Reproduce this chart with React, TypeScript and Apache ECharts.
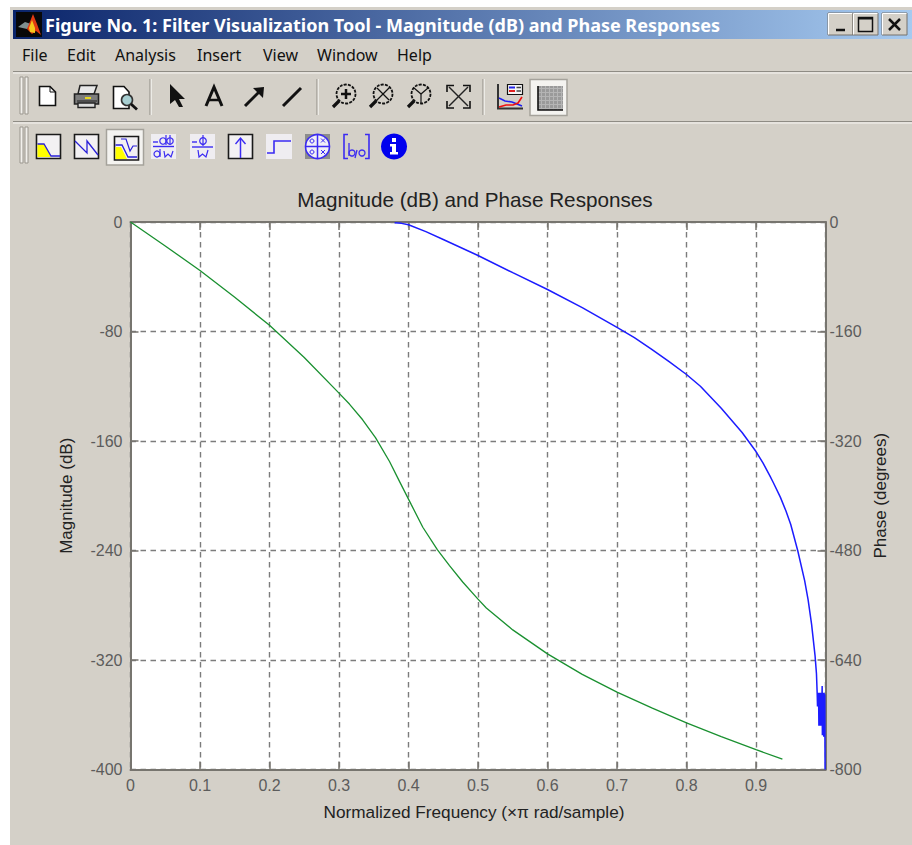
import React, { useEffect, useRef } from "react";
import * as echarts from "echarts";

const chartTitle = "Magnitude (dB) and Phase Responses";
const windowTitle = "Figure No. 1: Filter Visualization Tool - Magnitude (dB) and Phase Responses";
const xAxisName = "Normalized Frequency (×π rad/sample)";
const leftAxisName = "Magnitude (dB)";
const rightAxisName = "Phase (degrees)";
const menuLabels = ["File", "Edit", "Analysis", "Insert", "View", "Window", "Help"];

const magnitudeFreq = [0.38, 0.39, 0.4, 0.425, 0.45, 0.5, 0.55, 0.6, 0.65, 0.7, 0.725, 0.75, 0.775, 0.8, 0.82, 0.85, 0.88, 0.9, 0.91, 0.92, 0.925, 0.935, 0.943, 0.95, 0.96, 0.97, 0.975, 0.98, 0.985, 0.987];
const magnitudeDb = [-0.5, -1, -2, -7, -12.8, -24.5, -37, -49.3, -62.5, -77, -84.5, -93, -102, -111.4, -120, -136, -153.8, -167.7, -176, -185.5, -190.5, -201, -211, -221, -240, -262, -276, -294, -317, -330];
const tailFreq = [0.988, 0.9885, 0.989, 0.9895, 0.99, 0.9905, 0.991, 0.9915, 0.992, 0.9925, 0.993, 0.9935, 0.994, 0.9945, 0.995, 0.9952, 0.9955, 0.996, 0.9965, 0.997, 0.9975, 0.998, 0.9985, 0.999, 0.9992, 0.9994];
const tailDb = [-344, -354, -344, -354, -344, -368, -344, -368, -344, -368, -344, -368, -344, -368, -344, -339, -375, -344, -375, -344, -376, -344, -376, -345, -378, -400];

const phaseFreq = [0, 0.05, 0.1, 0.15, 0.2, 0.25, 0.3, 0.315, 0.334, 0.3525, 0.3727, 0.387, 0.404, 0.4206, 0.4417, 0.459, 0.478, 0.5, 0.512, 0.55, 0.6, 0.65, 0.7, 0.75, 0.8, 0.85, 0.9, 0.938];
const phaseDeg = [0, -35, -70.9, -110, -151, -198, -250, -266, -289, -315, -350, -379, -413, -446, -479, -502, -526, -551, -564, -596, -631, -661, -687, -710, -732, -752, -771, -785];

const BG = "#d4d0c8";
const INK = "#111111";
const VIOLET = "#3b2bf2";
const PALE = "#efedf1";

const rect = (x: number, y: number, w: number, h: number, fill: any, stroke?: string, lw = 1, z = 1) => ({
  type: "rect", z, silent: true, shape: { x, y, width: w, height: h }, style: { fill, stroke: stroke || "none", lineWidth: lw },
});
const line = (x1: number, y1: number, x2: number, y2: number, stroke: string, lw = 1) => ({
  type: "line", z: 1, silent: true, shape: { x1, y1, x2, y2 }, style: { stroke, lineWidth: lw },
});
const pline = (points: number[][], stroke: string, lw = 1) => ({
  type: "polyline", z: 1, silent: true, shape: { points }, style: { stroke, lineWidth: lw, fill: "none" },
});
const pgon = (points: number[][], fill: string, stroke?: string, lw = 1) => ({
  type: "polygon", z: 1, silent: true, shape: { points }, style: { fill, stroke: stroke || "none", lineWidth: lw },
});
const circ = (cx: number, cy: number, r: number, fill: string, stroke?: string, lw = 1, lineDash?: number[]) => ({
  type: "circle", z: 1, silent: true, shape: { cx, cy, r }, style: { fill, stroke: stroke || "none", lineWidth: lw, lineDash },
});
const label = (text: string, x: number, y: number, font: string, fill: string) => ({
  type: "text", z: 2, silent: true, x, y, style: { text, font, fill, textVerticalAlign: "middle" },
});

const handle = (x: number, y1: number, y2: number) => [
  rect(x, y1, 3, y2 - y1, "#f2f0ec", "#9a968e", 1),
  rect(x + 5, y1, 3, y2 - y1, "#f2f0ec", "#9a968e", 1),
];
const vSep = (x: number, y1: number, y2: number) => [line(x, y1, x, y2, "#8f8c85", 1), line(x + 1.2, y1, x + 1.2, y2, "#f7f6f3", 1)];
const hSep = (y: number) => [line(13, y, 912, y, "#8f8c85", 1.2), line(13, y + 1.5, 912, y + 1.5, "#f7f6f3", 1.2)];
const pressed = (x: number, y: number, w: number, h: number) => [
  rect(x, y, w, h, "#f4f3f0", "#a5a29b", 1.5),
];
const magnifier = (cx: number, cy: number) => [
  circ(cx, cy, 9.5, "none", INK, 1.8, [3, 1.2]),
  line(cx - 7, cy + 7, cx - 13, cy + 13, INK, 3.2),
];
const winButton = (x: number, w: number) => [
  rect(x, 13, w, 22, BG, "#77736c", 1),
  line(x + 0.5, 13.5, x + w - 0.5, 13.5, "#ffffff", 1),
  line(x + 0.5, 13.5, x + 0.5, 34.5, "#ffffff", 1),
];

const chromeElements: any[] = [
  rect(10, 7, 902, 838, BG, undefined, 1, -1),
  // title bar
  rect(13, 10, 899, 29, new echarts.graphic.LinearGradient(0, 0, 1, 0, [
    { offset: 0, color: "#0a246a" },
    { offset: 1, color: "#a6caf0" },
  ])),
  rect(16, 12, 26, 25, "#080808"),
  pgon([[18, 27], [25, 22], [31, 24], [27, 29]], "#7f8f90"),
  pgon([[27, 29], [33, 14], [37, 24], [41, 35], [36, 31], [32, 34]], "#e23a12"),
  pgon([[32, 20], [35, 28], [35, 33], [30, 32], [29, 28]], "#f6c81c"),
  label(windowTitle, 45, 25, "bold 18px 'Noto Sans'", "#ffffff"),
  ...winButton(828, 25),
  line(836, 30, 845, 30, INK, 2.5),
  ...winButton(853, 25),
  rect(858.5, 17.5, 14, 14, "none", INK, 1.5),
  line(858.5, 18.5, 872.5, 18.5, INK, 2),
  ...winButton(882, 25),
  line(889, 19, 900, 30, INK, 2.5),
  line(900, 19, 889, 30, INK, 2.5),
  // menu
  ...menuLabels.map((m, i) => label(m, [22, 67, 115, 197, 263, 317, 397][i], 55, "16px 'Noto Sans'", INK)),
  ...hSep(71.5),
  ...hSep(121.5),
  // toolbar 1
  ...handle(20, 77, 114),
  pgon([[39.5, 86.5], [50, 86.5], [55.5, 92], [55.5, 105.5], [39.5, 105.5]], "#ffffff", INK, 1.6),
  pline([[50, 86.5], [50, 92], [55.5, 92]], INK, 1),
  // printer
  pgon([[80, 85.5], [97, 85.5], [94, 94], [78, 94]], "#e8e8e8", "#222222", 1.5),
  rect(74.5, 94, 24, 10, "#7d7d7d", "#222222", 1.6),
  rect(78, 103, 17, 4.5, "#dddddd", "#222222", 1.4),
  line(85, 98, 91, 98, "#e8d820", 2),
  line(77, 101, 97, 101, "#303030", 1.2),
  // preview
  pgon([[113.5, 86.5], [124, 86.5], [129, 92], [129, 108.5], [113.5, 108.5]], "#ffffff", INK, 1.6),
  circ(127, 100, 5.5, "#a8cfd2", "#333333", 1.6),
  line(131, 104, 137, 109.5, INK, 2.8),
  ...vSep(150, 79, 115),
  // pointer
  pgon([[170, 84], [185, 99], [179, 99], [183, 107], [179, 107], [175, 100], [170, 104]], INK),
  // A glyph
  pline([[206, 106], [214, 87], [222, 106]], INK, 3),
  line(209, 100, 219, 100, INK, 2.5),
  // arrow
  line(245, 106, 261, 90, INK, 3),
  pgon([[264, 87], [263, 98], [253, 88]], INK),
  // line tool
  line(283, 106, 301, 88, INK, 3),
  ...vSep(317, 79, 115),
  ...magnifier(346, 94),
  line(341, 94, 351, 94, INK, 2.5),
  line(346, 89, 346, 99, INK, 2.5),
  ...magnifier(383, 94),
  line(377, 88, 389, 100, INK, 1.2),
  line(389, 88, 377, 100, INK, 1.2),
  ...magnifier(421, 94),
  line(421, 94, 421, 103, INK, 1.2),
  line(421, 94, 414, 88, INK, 1.2),
  line(421, 94, 428, 88, INK, 1.2),
  // fit
  line(449, 87, 468, 106, "#222222", 1.5),
  line(468, 87, 449, 106, "#222222", 1.5),
  pline([[447, 92], [447, 85.5], [454, 85.5]], INK, 1.6),
  pline([[463, 85.5], [470, 85.5], [470, 92]], INK, 1.6),
  pline([[447, 101], [447, 108], [454, 108]], INK, 1.6),
  pline([[463, 108], [470, 108], [470, 101]], INK, 1.6),
  ...vSep(483, 79, 115),
  // legend icon
  pline([[498, 84], [498, 108.5], [523, 108.5]], "#333333", 2),
  rect(507.5, 84.5, 15, 10, "#f5f5f5", INK, 1.2),
  line(509, 87.5, 515, 87.5, "#2525e8", 2),
  line(509, 91, 515, 91, "#e02020", 2),
  line(516.5, 87.5, 521, 87.5, "#444", 1.5),
  line(516.5, 91, 521, 91, "#444", 1.5),
  pline([[499, 98], [505, 101], [512, 102], [517, 104], [522, 106]], "#2020f0", 1.6),
  pline([[499, 107], [506, 105], [513, 105], [518, 103], [522, 97]], "#ee1010", 1.6),
  // grid icon
  ...pressed(530, 79.5, 37, 36),
  rect(538, 86, 25, 24, "#9a9a9a"),
  ...[0, 1, 2, 3, 4, 5].map((i) => line(538, 88.5 + i * 4, 563, 88.5 + i * 4, "#b5b5b5", 1)),
  ...[0, 1, 2, 3, 4, 5].map((i) => line(541.5 + i * 4, 86, 541.5 + i * 4, 110, "#b5b5b5", 1)),
  pline([[538, 86], [538, 110], [563, 110]], INK, 1.6),
  // toolbar 2
  ...handle(20, 127, 163),
  rect(36.5, 134.5, 24, 24, "#f3f1f3", "#1a1a1a", 1.6),
  pgon([[37.5, 144], [44, 144], [51, 157], [37.5, 157]], "#ffff00"),
  pline([[37.5, 144], [44, 144], [51, 156], [60, 156]], "#2a20d8", 1.3),
  rect(74.5, 134.5, 24, 24, "#f3f1f3", "#1a1a1a", 1.6),
  pline([[75, 141], [87, 153], [87, 141], [98, 155]], "#2a20d8", 1.3),
  ...pressed(106.5, 129.5, 37, 35.5),
  rect(114.5, 136.5, 24, 23.5, "#f3f1f3", "#1a1a1a", 1.6),
  pgon([[115.5, 147], [121, 147], [127, 159], [115.5, 159]], "#ffff00"),
  pline([[115.5, 145], [122, 145], [128, 157], [137, 157]], "#2a20d8", 1.3),
  pline([[121, 139], [126, 139], [130, 151], [133, 146], [137, 146]], "#2a20d8", 1.2),
  // group delay
  rect(151, 134, 25, 25, PALE),
  line(153, 146.5, 174, 146.5, VIOLET, 1.4),
  line(153, 142, 158, 142, VIOLET, 1.4),
  circ(163, 141, 3.2, "none", VIOLET, 1.2),
  line(166, 135, 166, 145, VIOLET, 1.2),
  circ(170, 141, 3.2, "none", VIOLET, 1.2),
  line(170, 135, 170, 145, VIOLET, 1.2),
  circ(157, 154, 3, "none", VIOLET, 1.2),
  line(160, 149, 160, 157, VIOLET, 1.2),
  pline([[164, 151], [165, 157], [168, 154], [171, 157], [173, 151]], VIOLET, 1.2),
  // phase delay
  rect(190, 134, 25, 25, PALE),
  line(192, 147, 213, 147, VIOLET, 1.4),
  line(192, 142, 197, 142, VIOLET, 1.4),
  circ(203, 141, 3.3, "none", VIOLET, 1.2),
  line(203, 135, 203, 146, VIOLET, 1.2),
  pline([[198, 150], [199, 157], [202.5, 154], [206, 157], [208, 150]], VIOLET, 1.2),
  // impulse
  rect(228.5, 134.5, 24, 24, "#f3f1f3", "#1a1a1a", 1.6),
  line(240.5, 139, 240.5, 158, VIOLET, 1.5),
  pline([[235.5, 144], [240.5, 138], [245.5, 144]], VIOLET, 1.4),
  // step
  rect(266, 134, 26, 25, PALE),
  pline([[267, 153], [274, 153], [274, 141], [291, 141]], VIOLET, 1.6),
  // pole zero
  rect(305, 134, 25, 25, "#8c8c8c"),
  circ(317.5, 146.5, 12, "#f0eef6", VIOLET, 1.6),
  line(305, 146.5, 330, 146.5, VIOLET, 1.5),
  line(317.5, 134, 317.5, 159, VIOLET, 1.5),
  circ(312, 141, 2, "none", VIOLET, 1),
  circ(312, 152, 2, "none", VIOLET, 1),
  line(321, 138.5, 325, 142.5, VIOLET, 1),
  line(325, 138.5, 321, 142.5, VIOLET, 1),
  line(321, 150, 325, 154, VIOLET, 1),
  line(325, 150, 321, 154, VIOLET, 1),
  // coefficients
  pline([[348, 134.5], [344, 134.5], [344, 158.5], [348, 158.5]], VIOLET, 1.6),
  pline([[365, 134.5], [369, 134.5], [369, 158.5], [365, 158.5]], VIOLET, 1.6),
  line(349, 143, 349, 156, VIOLET, 1.3),
  circ(352, 153, 3, "none", VIOLET, 1.3),
  line(357, 150, 355, 158, VIOLET, 1.3),
  circ(362, 153, 3, "none", VIOLET, 1.3),
  // info
  circ(394, 146.5, 13, "#0000ee"),
  rect(392, 138, 4, 4, "#ffffff"),
  pgon([[390, 144], [396, 144], [396, 152], [398, 152], [398, 154.5], [390, 154.5], [390, 152], [392, 152], [392, 146.5], [390, 146.5]], "#ffffff"),
];

const zip = (xs: number[], ys: number[]) => xs.map((x, i) => [x, ys[i]]);

export default function App() {
  const ref = useRef<HTMLDivElement>(null);
  useEffect(() => {
    const chart = echarts.init(ref.current!, undefined, { renderer: "svg" });
    const axisFont = "'Liberation Sans', Arial, sans-serif";
    const spine = { show: true, onZero: false, lineStyle: { color: "#77756f", width: 2 } };
    const tick = { show: true, inside: true, length: 8, lineStyle: { color: "#77756f", width: 1.5 } };
    const gridLine = { show: true, lineStyle: { type: [5.5, 4.5] as any, color: "#7c7c7c", width: 1.4 } };
    const tickLabel = { color: "#5c5c5c", fontSize: 16, fontFamily: axisFont };
    const nameStyle = { color: "#222222", fontSize: 17, fontFamily: axisFont };
    chart.setOption({
      animation: false,
      backgroundColor: "#ffffff",
      title: {
        text: chartTitle,
        left: 470,
        top: 184,
        textAlign: "center",
        textStyle: { color: "#222222", fontSize: 20.7, fontWeight: "normal", fontFamily: axisFont },
      },
      graphic: { elements: chromeElements },
      grid: { left: 130.5, top: 222, width: 695, height: 547.5, show: true, backgroundColor: "#ffffff", borderWidth: 0 },
      xAxis: [
        {
          type: "value", min: 0, max: 1, interval: 0.1, position: "bottom",
          name: xAxisName, nameLocation: "middle", nameGap: 34,
          nameTextStyle: { ...nameStyle, fontSize: 17.2, padding: [0, 8, 0, 0] },
          axisLine: spine, axisTick: tick, splitLine: gridLine,
          axisLabel: { ...tickLabel, margin: 8, showMaxLabel: false },
        },
        {
          type: "value", min: 0, max: 1, interval: 0.1, position: "top",
          axisLine: spine, axisTick: tick, splitLine: { show: false }, axisLabel: { show: false },
        },
      ],
      yAxis: [
        {
          type: "value", min: -400, max: 0, interval: 80, position: "left",
          name: leftAxisName, nameLocation: "middle", nameGap: 56, nameRotate: 90, nameTextStyle: nameStyle,
          axisLine: spine, axisTick: tick, splitLine: gridLine,
          axisLabel: { ...tickLabel, margin: 8 },
        },
        {
          type: "value", min: -800, max: 0, interval: 160, position: "right",
          name: rightAxisName, nameLocation: "middle", nameGap: 46, nameRotate: 90, nameTextStyle: nameStyle,
          axisLine: spine, axisTick: tick, splitLine: { show: false },
          axisLabel: { ...tickLabel, margin: 4 },
        },
      ],
      series: [
        {
          name: "Magnitude", type: "line", xAxisIndex: 0, yAxisIndex: 0, showSymbol: false, z: 3,
          lineStyle: { color: "#1c1cff", width: 1.5 },
          data: [...zip(magnitudeFreq, magnitudeDb), ...zip(tailFreq, tailDb)],
        },
        {
          name: "Phase", type: "line", xAxisIndex: 0, yAxisIndex: 1, showSymbol: false, z: 3,
          lineStyle: { color: "#1a9030", width: 1.3 },
          data: zip(phaseFreq, phaseDeg),
        },
      ],
    });
    return () => chart.dispose();
  }, []);
  return <div ref={ref} style={{ position: "absolute", left: 0, top: 0, width: 912, height: 845 }} />;
}
